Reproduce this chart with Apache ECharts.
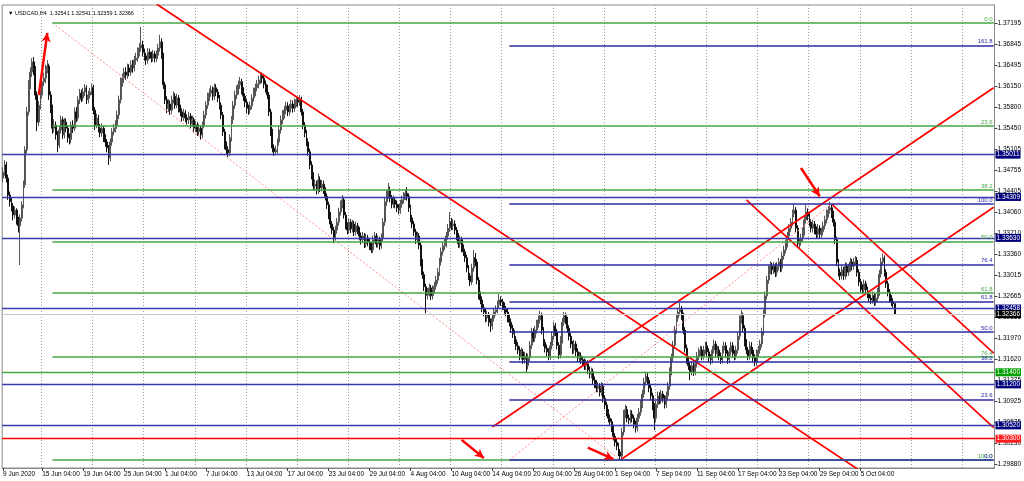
<!DOCTYPE html>
<html><head><meta charset="utf-8">
<script src="https://cdn.jsdelivr.net/npm/echarts@6/dist/echarts.min.js"></script>
<style>html,body{margin:0;padding:0;background:#fff}#c{width:1024px;height:481px}</style>
</head><body><div id="c"></div>
<script>
// ---------------- DATA ----------------
const symbolName = 'USDCAD,H4';
const lastBarOHLC = [1.32541, 1.32541, 1.32359, 1.32366];
const firstOpen = 1.3462;
// H4 bars from 9 Jun 2020 08:00 (open of each bar = previous close)
const closes = [
1.3472,1.3484,1.3462,1.3434,1.3423,1.3416,1.3401,1.3409,1.3393,1.3383,
1.3396,1.3418,1.3451,1.3509,1.3572,1.3617,1.3638,1.3655,1.3642,1.3600,
1.3555,1.3583,1.3600,1.3622,1.3628,1.3642,1.3648,1.3600,1.3578,1.3545,
1.3550,1.3534,1.3517,1.3542,1.3559,1.3534,1.3555,1.3545,1.3529,1.3526,
1.3550,1.3545,1.3572,1.3562,1.3592,1.3603,1.3595,1.3605,1.3612,1.3592,
1.3600,1.3605,1.3612,1.3575,1.3550,1.3562,1.3545,1.3537,1.3545,1.3529,
1.3522,1.3512,1.3496,1.3522,1.3539,1.3545,1.3550,1.3567,1.3592,1.3622,
1.3628,1.3638,1.3633,1.3645,1.3638,1.3650,1.3645,1.3658,1.3661,1.3671,
1.3678,1.3683,1.3671,1.3665,1.3658,1.3671,1.3666,1.3661,1.3668,1.3661,
1.3666,1.3678,1.3688,1.3666,1.3617,1.3592,1.3578,1.3585,1.3575,1.3592,
1.3598,1.3583,1.3595,1.3578,1.3572,1.3563,1.3570,1.3562,1.3559,1.3565,
1.3552,1.3559,1.3545,1.3550,1.3539,1.3545,1.3534,1.3550,1.3567,1.3583,
1.3597,1.3603,1.3608,1.3598,1.3612,1.3605,1.3595,1.3583,1.3567,1.3539,
1.3517,1.3509,1.3504,1.3529,1.3559,1.3583,1.3600,1.3608,1.3617,1.3622,
1.3608,1.3598,1.3588,1.3578,1.3575,1.3582,1.3595,1.3605,1.3612,1.3618,
1.3625,1.3632,1.3628,1.3618,1.3612,1.3600,1.3572,1.3539,1.3512,1.3506,
1.3509,1.3522,1.3542,1.3559,1.3568,1.3575,1.3582,1.3572,1.3578,1.3585,
1.3578,1.3587,1.3592,1.3588,1.3593,1.3572,1.3550,1.3537,1.3522,1.3506,
1.3484,1.3467,1.3449,1.3452,1.3442,1.3459,1.3446,1.3452,1.3442,1.3432,
1.3418,1.3401,1.3386,1.3376,1.3364,1.3376,1.3389,1.3406,1.3418,1.3426,
1.3401,1.3383,1.3376,1.3389,1.3378,1.3386,1.3373,1.3383,1.3376,1.3366,
1.3360,1.3366,1.3353,1.3363,1.3356,1.3350,1.3343,1.3360,1.3366,1.3353,
1.3360,1.3350,1.3363,1.3389,1.3423,1.3434,1.3442,1.3429,1.3419,1.3426,
1.3419,1.3413,1.3409,1.3419,1.3426,1.3432,1.3437,1.3432,1.3413,1.3396,
1.3386,1.3373,1.3360,1.3366,1.3351,1.3323,1.3302,1.3282,1.3268,1.3273,
1.3280,1.3267,1.3277,1.3283,1.3293,1.3306,1.3323,1.3340,1.3350,1.3353,
1.3366,1.3379,1.3389,1.3383,1.3386,1.3376,1.3366,1.3353,1.3360,1.3346,
1.3340,1.3330,1.3313,1.3300,1.3290,1.3313,1.3330,1.3323,1.3293,1.3268,
1.3260,1.3247,1.3240,1.3230,1.3235,1.3223,1.3217,1.3230,1.3240,1.3244,
1.3252,1.3260,1.3257,1.3250,1.3244,1.3240,1.3230,1.3223,1.3213,1.3204,
1.3194,1.3184,1.3177,1.3167,1.3174,1.3161,1.3167,1.3151,1.3164,1.3185,
1.3207,1.3197,1.3210,1.3220,1.3227,1.3234,1.3210,1.3190,1.3180,1.3174,
1.3167,1.3184,1.3200,1.3217,1.3207,1.3185,1.3169,1.3194,1.3223,1.3234,
1.3227,1.3213,1.3200,1.3187,1.3177,1.3187,1.3174,1.3164,1.3167,1.3161,
1.3157,1.3151,1.3154,1.3144,1.3137,1.3141,1.3127,1.3121,1.3114,1.3117,
1.3107,1.3117,1.3097,1.3086,1.3074,1.3064,1.3058,1.3048,1.3034,1.3024,
1.3018,1.3008,1.3001,1.3041,1.3071,1.3078,1.3064,1.3061,1.3071,1.3064,
1.3054,1.3048,1.3064,1.3074,1.3087,1.3104,1.3124,1.3134,1.3127,1.3114,
1.3101,1.3084,1.3064,1.3087,1.3101,1.3094,1.3104,1.3097,1.3087,1.3101,
1.3117,1.3141,1.3164,1.3185,1.3210,1.3230,1.3240,1.3244,1.3234,1.3210,
1.3180,1.3161,1.3151,1.3141,1.3151,1.3141,1.3154,1.3167,1.3174,1.3177,
1.3167,1.3177,1.3184,1.3174,1.3164,1.3161,1.3177,1.3187,1.3171,1.3177,
1.3167,1.3161,1.3177,1.3184,1.3171,1.3161,1.3174,1.3184,1.3171,1.3167,
1.3177,1.3200,1.3227,1.3234,1.3213,1.3190,1.3177,1.3167,1.3184,1.3177,
1.3164,1.3157,1.3171,1.3177,1.3187,1.3207,1.3237,1.3267,1.3293,1.3310,
1.3316,1.3310,1.3316,1.3306,1.3316,1.3323,1.3313,1.3333,1.3343,1.3353,
1.3366,1.3379,1.3389,1.3403,1.3409,1.3379,1.3353,1.3356,1.3363,1.3373,
1.3393,1.3406,1.3399,1.3389,1.3379,1.3386,1.3376,1.3369,1.3379,1.3369,
1.3373,1.3383,1.3393,1.3403,1.3409,1.3413,1.3403,1.3389,1.3360,1.3323,
1.3306,1.3300,1.3310,1.3300,1.3316,1.3306,1.3313,1.3323,1.3316,1.3323,
1.3326,1.3306,1.3290,1.3280,1.3277,1.3287,1.3277,1.3270,1.3263,1.3260,
1.3267,1.3257,1.3263,1.3273,1.3303,1.3323,1.3330,1.3306,1.3287,1.3273,
1.3263,1.3257,1.32541,1.32366];
const highs = [
1.3480,1.3492,1.3489,1.3468,1.3440,1.3429,1.3421,1.3415,1.3412,1.3398,
1.3402,1.3424,1.3458,1.3515,1.3580,1.3625,1.3646,1.3661,1.3663,1.3648,
1.3606,1.3590,1.3608,1.3630,1.3637,1.3650,1.3658,1.3652,1.3606,1.3584,
1.3560,1.3556,1.3540,1.3548,1.3566,1.3564,1.3562,1.3561,1.3550,1.3536,
1.3556,1.3558,1.3579,1.3580,1.3598,1.3610,1.3609,1.3612,1.3618,1.3616,
1.3607,1.3612,1.3619,1.3617,1.3580,1.3569,1.3567,1.3552,1.3553,1.3549,
1.3535,1.3527,1.3517,1.3528,1.3545,1.3552,1.3558,1.3574,1.3599,1.3629,
1.3636,1.3645,1.3646,1.3652,1.3651,1.3657,1.3658,1.3665,1.3670,1.3679,
1.3686,1.3713,1.3690,1.3677,1.3670,1.3678,1.3677,1.3672,1.3675,1.3673,
1.3674,1.3685,1.3700,1.3694,1.3670,1.3622,1.3598,1.3593,1.3591,1.3599,
1.3606,1.3603,1.3602,1.3600,1.3584,1.3578,1.3577,1.3575,1.3568,1.3572,
1.3570,1.3566,1.3563,1.3557,1.3555,1.3552,1.3550,1.3556,1.3574,1.3590,
1.3604,1.3611,1.3616,1.3614,1.3619,1.3618,1.3610,1.3600,1.3588,1.3572,
1.3544,1.3523,1.3515,1.3535,1.3565,1.3590,1.3607,1.3616,1.3624,1.3630,
1.3627,1.3613,1.3603,1.3593,1.3584,1.3589,1.3601,1.3612,1.3619,1.3625,
1.3632,1.3638,1.3637,1.3633,1.3624,1.3617,1.3605,1.3577,1.3544,1.3518,
1.3516,1.3528,1.3549,1.3566,1.3575,1.3582,1.3589,1.3588,1.3585,1.3592,
1.3591,1.3594,1.3598,1.3597,1.3600,1.3597,1.3577,1.3555,1.3542,1.3528,
1.3511,1.3490,1.3472,1.3460,1.3458,1.3470,1.3465,1.3459,1.3458,1.3447,
1.3437,1.3423,1.3406,1.3391,1.3381,1.3383,1.3396,1.3413,1.3425,1.3434,
1.3431,1.3406,1.3389,1.3396,1.3394,1.3393,1.3391,1.3390,1.3388,1.3381,
1.3372,1.3373,1.3371,1.3370,1.3368,1.3361,1.3355,1.3367,1.3373,1.3371,
1.3367,1.3365,1.3370,1.3396,1.3430,1.3442,1.3454,1.3448,1.3434,1.3433,
1.3431,1.3425,1.3419,1.3426,1.3433,1.3439,1.3444,1.3447,1.3437,1.3418,
1.3401,1.3391,1.3378,1.3373,1.3371,1.3356,1.3328,1.3307,1.3287,1.3280,
1.3287,1.3285,1.3284,1.3290,1.3300,1.3313,1.3330,1.3347,1.3357,1.3361,
1.3373,1.3386,1.3406,1.3396,1.3394,1.3392,1.3381,1.3371,1.3367,1.3365,
1.3352,1.3345,1.3335,1.3318,1.3305,1.3320,1.3343,1.3338,1.3328,1.3298,
1.3274,1.3266,1.3253,1.3246,1.3242,1.3240,1.3229,1.3237,1.3247,1.3251,
1.3259,1.3270,1.3266,1.3262,1.3256,1.3250,1.3246,1.3236,1.3229,1.3219,
1.3210,1.3200,1.3190,1.3183,1.3181,1.3179,1.3174,1.3172,1.3171,1.3192,
1.3214,1.3213,1.3217,1.3227,1.3234,1.3242,1.3239,1.3215,1.3195,1.3186,
1.3180,1.3191,1.3207,1.3224,1.3222,1.3212,1.3190,1.3200,1.3230,1.3240,
1.3239,1.3232,1.3218,1.3205,1.3192,1.3194,1.3192,1.3180,1.3174,1.3173,
1.3167,1.3163,1.3161,1.3160,1.3150,1.3148,1.3146,1.3133,1.3127,1.3124,
1.3122,1.3124,1.3122,1.3102,1.3091,1.3079,1.3070,1.3063,1.3053,1.3039,
1.3030,1.3023,1.3013,1.3048,1.3078,1.3086,1.3084,1.3070,1.3078,1.3077,
1.3069,1.3060,1.3071,1.3081,1.3094,1.3111,1.3131,1.3141,1.3139,1.3132,
1.3119,1.3106,1.3089,1.3094,1.3108,1.3107,1.3111,1.3109,1.3102,1.3108,
1.3124,1.3148,1.3171,1.3192,1.3217,1.3237,1.3247,1.3255,1.3250,1.3239,
1.3215,1.3186,1.3167,1.3157,1.3158,1.3157,1.3161,1.3174,1.3181,1.3184,
1.3183,1.3184,1.3191,1.3190,1.3180,1.3170,1.3184,1.3194,1.3192,1.3184,
1.3183,1.3173,1.3184,1.3191,1.3190,1.3177,1.3181,1.3191,1.3190,1.3177,
1.3184,1.3207,1.3234,1.3243,1.3239,1.3218,1.3195,1.3182,1.3191,1.3190,
1.3182,1.3170,1.3178,1.3184,1.3194,1.3214,1.3244,1.3274,1.3300,1.3317,
1.3324,1.3322,1.3323,1.3321,1.3323,1.3330,1.3328,1.3340,1.3350,1.3360,
1.3373,1.3386,1.3396,1.3410,1.3419,1.3414,1.3384,1.3363,1.3370,1.3380,
1.3400,1.3418,1.3412,1.3405,1.3394,1.3393,1.3391,1.3382,1.3386,1.3384,
1.3380,1.3390,1.3400,1.3410,1.3416,1.3423,1.3418,1.3408,1.3394,1.3365,
1.3328,1.3312,1.3317,1.3315,1.3323,1.3321,1.3320,1.3330,1.3328,1.3330,
1.3333,1.3331,1.3311,1.3295,1.3286,1.3294,1.3292,1.3282,1.3275,1.3269,
1.3274,1.3272,1.3270,1.3280,1.3310,1.3330,1.3337,1.3334,1.3311,1.3292,
1.3278,1.3268,1.3263,1.32541];
const lows = [
1.3455,1.3466,1.3455,1.3426,1.3415,1.3407,1.3392,1.3395,1.3385,1.3372,
1.3318,1.3390,1.3412,1.3446,1.3503,1.3566,1.3610,1.3630,1.3633,1.3592,
1.3540,1.3548,1.3576,1.3594,1.3615,1.3620,1.3636,1.3592,1.3570,1.3536,
1.3538,1.3526,1.3505,1.3512,1.3536,1.3527,1.3528,1.3538,1.3521,1.3518,
1.3520,1.3537,1.3540,1.3555,1.3557,1.3585,1.3588,1.3590,1.3598,1.3585,
1.3586,1.3594,1.3600,1.3568,1.3542,1.3545,1.3538,1.3530,1.3531,1.3522,
1.3514,1.3505,1.3484,1.3490,1.3516,1.3533,1.3538,1.3544,1.3560,1.3586,
1.3614,1.3620,1.3625,1.3627,1.3631,1.3632,1.3637,1.3639,1.3650,1.3655,
1.3664,1.3672,1.3664,1.3657,1.3650,1.3652,1.3660,1.3654,1.3655,1.3654,
1.3655,1.3660,1.3672,1.3660,1.3610,1.3585,1.3570,1.3572,1.3567,1.3569,
1.3586,1.3577,1.3578,1.3571,1.3565,1.3556,1.3557,1.3555,1.3551,1.3552,
1.3545,1.3547,1.3538,1.3539,1.3532,1.3533,1.3526,1.3529,1.3545,1.3561,
1.3577,1.3590,1.3597,1.3591,1.3592,1.3598,1.3588,1.3576,1.3560,1.3532,
1.3510,1.3501,1.3496,1.3499,1.3523,1.3552,1.3577,1.3593,1.3601,1.3610,
1.3601,1.3590,1.3580,1.3570,1.3567,1.3569,1.3576,1.3589,1.3598,1.3606,
1.3611,1.3618,1.3620,1.3611,1.3604,1.3593,1.3565,1.3532,1.3505,1.3499,
1.3500,1.3503,1.3516,1.3536,1.3552,1.3561,1.3568,1.3565,1.3566,1.3571,
1.3571,1.3572,1.3580,1.3581,1.3582,1.3566,1.3543,1.3530,1.3515,1.3499,
1.3477,1.3460,1.3442,1.3441,1.3435,1.3436,1.3439,1.3440,1.3436,1.3425,
1.3411,1.3394,1.3379,1.3369,1.3354,1.3358,1.3370,1.3383,1.3400,1.3412,
1.3395,1.3377,1.3369,1.3370,1.3371,1.3372,1.3366,1.3367,1.3369,1.3359,
1.3352,1.3354,1.3346,1.3347,1.3349,1.3343,1.3338,1.3338,1.3354,1.3347,
1.3347,1.3343,1.3345,1.3357,1.3383,1.3416,1.3428,1.3422,1.3412,1.3413,
1.3412,1.3406,1.3402,1.3403,1.3413,1.3420,1.3426,1.3425,1.3406,1.3389,
1.3379,1.3366,1.3353,1.3354,1.3344,1.3316,1.3295,1.3275,1.3238,1.3261,
1.3266,1.3260,1.3261,1.3271,1.3277,1.3287,1.3300,1.3317,1.3334,1.3343,
1.3347,1.3360,1.3373,1.3376,1.3376,1.3369,1.3359,1.3346,1.3347,1.3339,
1.3333,1.3323,1.3306,1.3293,1.3283,1.3285,1.3307,1.3316,1.3286,1.3261,
1.3253,1.3240,1.3233,1.3223,1.3224,1.3216,1.3207,1.3211,1.3224,1.3234,
1.3238,1.3246,1.3250,1.3243,1.3237,1.3233,1.3223,1.3216,1.3206,1.3197,
1.3187,1.3177,1.3170,1.3160,1.3161,1.3154,1.3155,1.3139,1.3145,1.3158,
1.3179,1.3190,1.3191,1.3204,1.3214,1.3221,1.3203,1.3183,1.3173,1.3167,
1.3160,1.3161,1.3178,1.3194,1.3200,1.3178,1.3162,1.3163,1.3188,1.3217,
1.3220,1.3206,1.3193,1.3180,1.3170,1.3171,1.3167,1.3157,1.3157,1.3154,
1.3150,1.3144,1.3144,1.3137,1.3130,1.3130,1.3120,1.3114,1.3107,1.3107,
1.3100,1.3101,1.3090,1.3079,1.3067,1.3057,1.3051,1.3041,1.3027,1.3017,
1.3011,1.3001,1.2995,1.2997,1.3035,1.3064,1.3057,1.3054,1.3055,1.3057,
1.3047,1.3040,1.3042,1.3058,1.3068,1.3081,1.3098,1.3118,1.3120,1.3107,
1.3094,1.3077,1.3044,1.3058,1.3081,1.3087,1.3088,1.3090,1.3080,1.3081,
1.3095,1.3111,1.3135,1.3158,1.3179,1.3204,1.3224,1.3234,1.3227,1.3203,
1.3173,1.3154,1.3144,1.3127,1.3135,1.3134,1.3135,1.3148,1.3160,1.3167,
1.3160,1.3161,1.3170,1.3167,1.3157,1.3153,1.3155,1.3171,1.3164,1.3164,
1.3160,1.3154,1.3155,1.3171,1.3164,1.3154,1.3155,1.3168,1.3164,1.3160,
1.3161,1.3171,1.3194,1.3221,1.3206,1.3183,1.3170,1.3160,1.3161,1.3170,
1.3157,1.3150,1.3151,1.3165,1.3171,1.3181,1.3201,1.3231,1.3261,1.3287,
1.3303,1.3302,1.3303,1.3298,1.3299,1.3309,1.3306,1.3307,1.3327,1.3337,
1.3347,1.3360,1.3373,1.3383,1.3397,1.3372,1.3346,1.3346,1.3350,1.3357,
1.3367,1.3387,1.3392,1.3382,1.3372,1.3372,1.3369,1.3362,1.3363,1.3362,
1.3363,1.3367,1.3377,1.3387,1.3397,1.3403,1.3396,1.3382,1.3353,1.3316,
1.3299,1.3293,1.3294,1.3293,1.3294,1.3299,1.3300,1.3307,1.3309,1.3310,
1.3317,1.3299,1.3283,1.3273,1.3270,1.3271,1.3270,1.3263,1.3256,1.3253,
1.3254,1.3250,1.3251,1.3257,1.3267,1.3297,1.3317,1.3299,1.3280,1.3266,
1.3256,1.3250,1.3247,1.32359];

const futureBars = 58;            // empty space to the right (chart shift)
const yTickValues = [1.37195,1.36845,1.36495,1.36150,1.35800,1.35450,1.35105,1.34755,1.34405,1.34060,1.33710,
  1.33360,1.33015,1.32665,1.32315,1.31970,1.31620,1.31275,1.30925,1.30575,1.30230,1.29880];
const xTickLabels = ['9 Jun 2020','15 Jun 04:00','19 Jun 04:00','25 Jun 04:00','1 Jul 04:00','7 Jul 04:00',
  '13 Jul 04:00','17 Jul 04:00','23 Jul 04:00','29 Jul 04:00','4 Aug 04:00','10 Aug 04:00','14 Aug 04:00',
  '20 Aug 04:00','26 Aug 04:00','1 Sep 04:00','7 Sep 04:00','11 Sep 04:00','17 Sep 04:00','23 Sep 04:00',
  '29 Sep 04:00','5 Oct 04:00'];
// full-width horizontal levels (price, kind)
const levelPrices = [1.35011, 1.34309, 1.33630, 1.32458, 1.31400, 1.31200, 1.30520, 1.30300];
const levelKinds  = ['navy','navy','navy','navy','green','navy','navy','red'];
const bidPrice = 1.32366;
// Fibonacci objects: anchor bars and prices
const fib1 = {bar0: 29, price0: 1.37195, bar1: 362, price1: 1.29946, levels: [0, 23.6, 38.2, 50, 61.8, 76.4, 100]};
const fib2 = {bar0: 297, price0: 1.29946, bar1: 486, price1: 1.34192, levels: [0, 23.6, 38.2, 50, 61.8, 76.4, 100, 161.8]};
// trend lines [barIndex, price] pairs
const trendLines = [
  [[90, 1.3751], [506, 1.29705]],
  [[287, 1.30493], [581, 1.36120]],
  [[362, 1.29946], [581, 1.34138]],
  [[486, 1.34192], [581, 1.31718]],
  [[436, 1.34259], [581, 1.30482]]
];
const arrows = [
  [[21, 1.3600], [26, 1.3703]],
  [[269, 1.3028], [282, 1.2998]],
  [[343, 1.3015], [358, 1.2996]],
  [[468, 1.3479], [479, 1.3432]]
];

// ---------------- BUILD ----------------
const MONTHS = ['Jan','Feb','Mar','Apr','May','Jun','Jul','Aug','Sep','Oct','Nov','Dec'];
const categories = [];
let t = Date.UTC(2020, 5, 9, 8);
while (categories.length < closes.length + futureBars) {
  const d = new Date(t);
  const wd = d.getUTCDay();
  if (wd !== 0 && wd !== 6) {
    const head = d.getUTCDate() + ' ' + MONTHS[d.getUTCMonth()] + ' ';
    categories.push(categories.length === 0 ? head + d.getUTCFullYear()
      : head + String(d.getUTCHours()).padStart(2, '0') + ':00');
  }
  t += 4 * 3600 * 1000;
}
const lastIdx = categories.length - 1;
const tickSet = new Set(xTickLabels);
const labelFn = (idx, val) => idx < closes.length && tickSet.has(val);
const gridFn = (idx) => idx >= 23 && (idx - 23) % 30 === 0;

const n = Math.min(closes.length, highs.length, lows.length);
const candles = [];
for (let i = 0; i < n; i++) {
  const o = i === 0 ? firstOpen : closes[i - 1];
  candles.push([o, closes[i], lows[i], highs[i]]);
}

const FONT = 'Liberation Sans';
const NAVY = '#2b2ba6', NAVY_LT = '#3a3ab0', NAVY_BOX = '#00007a', GREEN = '#45a645', RED = '#ff0000';
const kindLine = {navy: NAVY_LT, green: GREEN, red: RED};
const kindBox = {navy: NAVY_BOX, green: '#00a000', red: '#ff1a1a'};

const markData = [];
levelPrices.forEach((p, k) => {
  markData.push({
    yAxis: p,
    lineStyle: {color: kindLine[levelKinds[k]], width: 1.4, type: 'solid'},
    label: {show: true, position: 'end', distance: 1, formatter: p.toFixed(5),
      backgroundColor: kindBox[levelKinds[k]], color: '#fff', fontSize: 6.5, fontFamily: FONT, padding: [1, 1, 0, 1]}
  });
});
markData.push({
  yAxis: bidPrice,
  lineStyle: {color: '#c8c8c8', width: 1, type: 'solid'},
  label: {show: true, position: 'end', distance: 1, formatter: bidPrice.toFixed(5),
    backgroundColor: '#000', color: '#fff', fontSize: 6.5, fontFamily: FONT, padding: [1, 1, 0, 1]}
});
function addFib(f, color) {
  f.levels.forEach(L => {
    const p = f.price0 + (f.price1 - f.price0) * L / 100;
    markData.push([
      {coord: [Math.min(f.bar0, f.bar1), p], lineStyle: {color: color, width: 1.5, type: 'solid'},
       label: {show: true, position: 'insideEndTop', distance: 1, formatter: L.toFixed(1),
         color: color, fontSize: 6, fontFamily: FONT}},
      {coord: [lastIdx, p]}
    ]);
  });
}
addFib(fib1, GREEN);
addFib(fib2, NAVY);
arrows.forEach(a => {
  markData.push([
    {coord: a[0], symbol: 'none', lineStyle: {color: RED, width: 2.5, type: 'solid'}, label: {show: false},
     itemStyle: {color: RED}},
    {coord: a[1], symbol: 'arrow', symbolSize: [7, 9], itemStyle: {color: RED}}
  ]);
});

const series = [{
  type: 'candlestick',
  data: candles,
  barWidth: 1.4,
  clip: true,
  silent: true,
  itemStyle: {color: '#b4b4b4', color0: '#111', borderColor: '#555', borderColor0: '#111', borderWidth: 1},
  markLine: {silent: true, precision: 5, symbol: ['none', 'none'], animation: false, data: markData},
  z: 2
}];
trendLines.forEach(seg => series.push({
  type: 'line', data: seg, symbol: 'none', silent: true, clip: true, animation: false, z: 4,
  lineStyle: {color: RED, width: 1.7}
}));
[fib1, fib2].forEach(f => series.push({
  type: 'line', data: [[f.bar0, f.price0], [f.bar1, f.price1]], symbol: 'none', silent: true, clip: true,
  animation: false, z: 3, lineStyle: {color: '#ff8c8c', width: 1, type: [2, 2]}
}));

const chart = echarts.init(document.getElementById('c'), null, {renderer: 'canvas'});
chart.setOption({
  animation: false,
  backgroundColor: '#fff',
  title: {
    text: '\u25BC ' + symbolName + '  ' + lastBarOHLC.map(v => v.toFixed(5)).join(' '),
    left: 3, top: 5,
    textStyle: {fontSize: 5.5, fontWeight: 'normal', color: '#000', fontFamily: FONT}
  },
  grid: {left: 2, right: 28, top: 5, bottom: 13, show: true, borderColor: '#8a8a8a', borderWidth: 1},
  xAxis: {
    type: 'category', data: categories, boundaryGap: true,
    axisLine: {show: true, lineStyle: {color: '#8a8a8a'}},
    axisTick: {show: true, alignWithLabel: true, interval: labelFn, length: 3, lineStyle: {color: '#444'}},
    axisLabel: {interval: labelFn, align: 'left', fontSize: 6.5, margin: 3, color: '#000', fontFamily: FONT},
    splitLine: {show: true, interval: gridFn, lineStyle: {type: [1, 2], color: '#9a9a9a', width: 1}}
  },
  yAxis: {
    type: 'value', position: 'right', min: 1.29813, max: 1.37493, scale: true,
    axisLine: {show: true, lineStyle: {color: '#8a8a8a'}},
    axisTick: {show: true, customValues: yTickValues, length: 3, lineStyle: {color: '#444'}},
    axisLabel: {customValues: yTickValues, formatter: v => v.toFixed(5), fontSize: 6.5, margin: 3,
      color: '#000', fontFamily: FONT},
    splitLine: {show: false}
  },
  series: series
});
</script>
</body></html>
